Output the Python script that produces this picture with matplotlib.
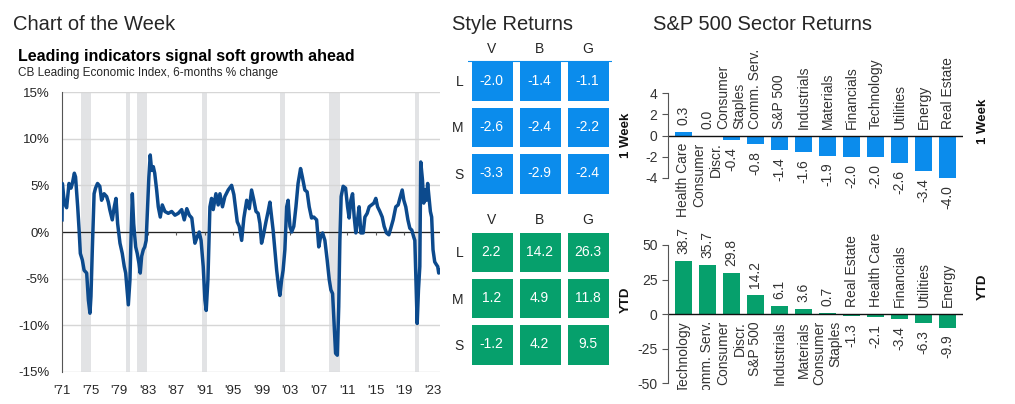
import matplotlib.pyplot as plt
import numpy as np
from matplotlib.colors import ListedColormap
from matplotlib.transforms import Bbox, TransformedBbox

plt.rcParams['font.family'] = ['Liberation Sans', 'DejaVu Sans']
plt.rcParams['axes.unicode_minus'] = False  # guion comun como en el original

# ---- datos ----
# LEI, variacion 6 meses (%)
lei_years = [1971.0, 1971.05, 1971.33, 1971.65, 1971.98, 1972.26, 1972.45, 1972.73, 1972.9, 1973.2,
             1973.4, 1973.57, 1973.85, 1974.1, 1974.46, 1974.7, 1974.92, 1975.06, 1975.25, 1975.5,
             1975.7, 1975.98, 1976.3, 1976.55, 1976.9, 1977.26, 1977.5, 1977.7, 1978.05, 1978.33,
             1978.57, 1978.8, 1979.13, 1979.45, 1979.73, 1979.93, 1980.1, 1980.3, 1980.53, 1980.67,
             1980.86, 1981.05, 1981.33, 1981.55, 1981.8, 1981.97, 1982.17, 1982.4, 1982.6, 1982.8,
             1983.0, 1983.18, 1983.37, 1983.57, 1983.8, 1984.0, 1984.27, 1984.5, 1984.78, 1985.06,
             1985.43, 1985.9, 1986.38, 1986.84, 1987.3, 1987.78, 1988.14, 1988.5, 1988.85, 1989.2,
             1989.4, 1989.64, 1989.96, 1990.24, 1990.5, 1990.8, 1991.04, 1991.22, 1991.46, 1991.74,
             1991.97, 1992.2, 1992.58, 1992.9, 1993.14, 1993.5, 1993.84, 1994.3, 1994.78, 1995.1,
             1995.25, 1995.57, 1995.85, 1996.19, 1996.5, 1996.9, 1997.26, 1997.58, 1997.9, 1998.2,
             1998.5, 1998.75, 1998.98, 1999.2, 1999.6, 1999.9, 2000.15, 2000.39, 2000.6, 2000.85,
             2001.1, 2001.37, 2001.55, 2001.8, 2002.0, 2002.25, 2002.5, 2002.7, 2002.96, 2003.2,
             2003.5, 2003.8, 2004.1, 2004.45, 2004.7, 2005.05, 2005.37, 2005.66, 2005.99, 2006.3,
             2006.7, 2007.0, 2007.26, 2007.54, 2007.86, 2008.18, 2008.47, 2008.7, 2008.94, 2009.17,
             2009.36, 2009.6, 2009.8, 2009.96, 2010.14, 2010.42, 2010.76, 2011.04, 2011.26, 2011.5,
             2011.74, 2011.97, 2012.2, 2012.44, 2012.66, 2012.9, 2013.23, 2013.47, 2013.79, 2014.07,
             2014.4, 2014.73, 2015.0, 2015.25, 2015.57, 2015.9, 2016.17, 2016.5, 2016.83, 2017.1,
             2017.43, 2017.8, 2018.13, 2018.37, 2018.7, 2018.93, 2019.2, 2019.5, 2019.77, 2020.05,
             2020.3, 2020.47, 2020.6, 2020.8, 2020.98, 2021.17, 2021.3, 2021.54, 2021.72, 2021.9,
             2022.1, 2022.27, 2022.45, 2022.65, 2022.83, 2023.02, 2023.26, 2023.5, 2023.68, 2023.82,
             2023.98]
lei_vals = [1.3, 5.2, 3.1, 2.6, 5.2, 4.7, 5.2, 6.3, 5.9, 2.7,
            0.2, -2.3, -3.0, -4.1, -4.4, -7.3, -8.7, -6.9, -1.9, 4.1,
            4.7, 5.2, 4.9, 3.4, 4.1, 3.8, 3.2, 2.4, 1.3, 2.7,
            3.6, 0.9, -1.2, -2.3, -3.7, -4.4, -5.9, -7.8, -5.1, -0.9,
            4.1, 0.9, -1.6, -2.3, -3.4, -4.4, -2.6, -1.9, -1.6, -0.9,
            2.7, 5.9, 8.25, 6.6, 7.0, 6.3, 4.5, 2.7, 1.6, 2.9,
            2.2, 2.0, 2.2, 1.8, 2.0, 2.4, 1.3, 2.5, 1.8, 1.5,
            0.2, -1.2, -0.5, 0.0, -0.9, -3.7, -7.3, -8.4, -5.1, 2.7,
            3.6, 2.4, 4.1, 2.9, 4.1, 2.7, 3.8, 4.5, 5.0, 4.0,
            3.1, 1.1, 0.6, -0.9, 1.5, 3.4, 2.5, 4.5, 3.4, 2.2,
            2.0, 0.9, -1.2, -0.5, 1.1, 2.2, 3.2, 1.6, 0.2, -1.9,
            -4.1, -5.9, -6.8, -5.1, -4.1, -1.9, 2.7, 3.4, 0.6, 0.0,
            0.6, 2.7, 5.2, 6.8, 5.9, 4.5, 4.3, 2.7, 1.5, 1.6,
            1.3, -1.6, -0.5, -0.1, -0.9, -3.0, -5.1, -6.2, -6.6, -10.1,
            -13.0, -13.2, -8.0, -0.9, 3.8, 4.9, 4.7, 2.7, 1.5, 3.4,
            4.1, 1.6, -0.1, 1.3, 2.7, -0.1, -0.1, 1.6, 2.0, 2.7,
            2.9, 3.1, 3.6, 2.7, 2.2, 1.6, 0.6, -0.1, -0.3, 0.4,
            1.3, 2.7, 2.9, 3.6, 4.5, 3.4, 2.7, 1.3, 0.4, 0.2,
            -0.5, -0.9, -4.4, -9.8, -6.2, -3.7, 7.5, 5.6, 3.1, 4.5,
            3.4, 5.2, 3.8, 2.2, 1.6, -1.9, -3.2, -3.5, -3.7, -4.4,
            -4.1]
# recesiones (inicio, fin)
recessions = [(1973.66, 1975.06), (1979.97, 1980.53), (1981.51, 1982.91), (1990.62, 1991.32),
              (2001.55, 2002.25), (2008.47, 2009.96), (2020.52, 2021.0)]
year_ticks = list(range(1971, 2024, 4))
year_labels = ["'71", "'75", "'79", "'83", "'87", "'91", "'95", "'99", "'03", "'07", "'11", "'15", "'19", "'23"]
pct_ticks = [-15, -10, -5, 0, 5, 10, 15]

# style returns
style_cols = ['V', 'B', 'G']
style_rows = ['L', 'M', 'S']
style_week = [[-2.0, -1.4, -1.1], [-2.6, -2.4, -2.2], [-3.3, -2.9, -2.4]]
style_ytd = [[2.2, 14.2, 26.3], [1.2, 4.9, 11.8], [-1.2, 4.2, 9.5]]

# sectores
week_names = ['Health Care', 'Consumer\nDiscr.', 'Consumer\nStaples', 'Comm. Serv.', 'S&P 500',
              'Industrials', 'Materials', 'Financials', 'Technology', 'Utilities', 'Energy', 'Real Estate']
week_vals = [0.3, 0.0, -0.4, -0.8, -1.4, -1.6, -1.9, -2.0, -2.0, -2.6, -3.4, -4.0]
ytd_names = ['Technology', 'Comm. Serv.', 'Consumer\nDiscr.', 'S&P 500', 'Industrials', 'Materials',
             'Consumer\nStaples', 'Real Estate', 'Health Care', 'Financials', 'Utilities', 'Energy']
ytd_vals = [38.7, 35.7, 29.8, 14.2, 6.1, 3.6, 0.7, -1.3, -2.1, -3.4, -6.3, -9.9]

BLUE = '#0b8cec'
GREEN = '#06a06c'
NAVY = '#0c4a8d'
TXT = '#262626'

W, H = 1015, 404
fig = plt.figure(figsize=(W / 100, H / 100), dpi=100)


def box(left, top, right, bottom):
    # rectangulo en pixeles (desde arriba) -> coords de figura
    return [left / W, 1 - bottom / H, (right - left) / W, (bottom - top) / H]


# titulos
fig.text(13 / W, 1 - 30.5 / H, 'Chart of the Week', fontsize=14.5, color=TXT, va='baseline')
fig.text(18 / W, 1 - 61 / H, 'Leading indicators signal soft growth ahead', fontsize=11.5,
         fontweight='bold', color='black', va='baseline')
fig.text(18 / W, 1 - 76 / H, 'CB Leading Economic Index, 6-months % change', fontsize=8.5,
         color=TXT, va='baseline')
fig.text(452 / W, 1 - 30.5 / H, 'Style Returns', fontsize=14.5, color=TXT, va='baseline')
fig.text(653 / W, 1 - 30.5 / H, 'S&P 500 Sector Returns', fontsize=14.5, color=TXT, va='baseline')

# ---- grafico de linea ----
ax = fig.add_axes(box(62, 92, 440, 372))
for a, b in recessions:
    ax.axvspan(a, b, color='#e2e3e5', lw=0, zorder=0)
ax.set_xlim(1971, 2024)
ax.set_ylim(-15, 15)
ax.set_yticks(pct_ticks, [f'{v}%' for v in pct_ticks])
ax.yaxis.grid(True, color='#d6d6d6', lw=1)
ax.set_axisbelow(True)
ax.set_xticks(year_ticks, year_labels)
ax.tick_params(length=0, labelsize=9.5, colors=TXT)
ax.tick_params(axis='x', pad=9)
ax.tick_params(axis='y', pad=9)
for s in ['top', 'right', 'bottom']:
    ax.spines[s].set_visible(False)
ax.spines['left'].set_color('#555555')
ax.axhline(0, color='#222222', lw=0.9, zorder=2)
ax.vlines(year_ticks, -0.35, 0, color='#555555', lw=0.8, zorder=2)
ax.plot(lei_years, lei_vals, color=NAVY, lw=2.5, solid_joinstyle='round', zorder=3)


# ---- style returns ----
def style_grid(rect, vals, color, topline=False):
    ax = fig.add_axes(box(*rect))
    ax.pcolormesh(np.zeros((3, 3)), cmap=ListedColormap([color]), edgecolors='white', linewidth=5.0)
    ax.set_xlim(0, 3)
    ax.set_ylim(3, 0)
    for i in range(3):
        for j in range(3):
            ax.text(j + 0.5, i + 0.5, f'{vals[i][j]:.1f}', ha='center', va='center',
                    color='white', fontsize=10)
    ax.set_xticks(np.arange(3) + 0.5, style_cols)
    ax.xaxis.tick_top()
    ax.set_yticks(np.arange(3) + 0.5, style_rows)
    ax.tick_params(length=0, labelsize=10, colors=TXT)
    ax.tick_params(axis='x', pad=1)
    ax.tick_params(axis='y', pad=3)
    for s in ax.spines.values():
        s.set_visible(False)
    if topline:
        ax.axhline(0.076, color=color, lw=0.8)


style_grid((467.5, 57.5, 611.5, 196.5), style_week, BLUE, topline=True)
style_grid((467.5, 228.5, 611.5, 367.5), style_ytd, GREEN)


# ---- sectores ----
def sector_chart(rect, names, vals, ylim, yticks, color, clip=None):
    ax = fig.add_axes(box(*rect))
    x = np.arange(len(vals))
    ax.bar(x, vals, width=0.7, color=color)
    ax.axhline(0, color='#111111', lw=1)
    ax.set_xlim(-0.64, len(vals) - 0.36)
    ax.set_ylim(*ylim)
    ax.set_yticks(yticks)
    ax.set_xticks([])
    ax.tick_params(axis='y', length=4.5, width=0.8, color='#555555', labelsize=10,
                   labelcolor='#333333', pad=3)
    for s in ['top', 'right', 'bottom']:
        ax.spines[s].set_visible(False)
    ax.spines['left'].set_color('#555555')
    ax.spines['left'].set_bounds(*ylim)
    texts = []
    for i, (n, v) in enumerate(zip(names, vals)):
        if v >= 0:
            t1 = ax.annotate(f'{v:.1f}', (i, v), xytext=(0, 5), textcoords='offset points',
                             rotation=90, ha='center', va='bottom', fontsize=10, color='#333333')
            t2 = ax.annotate(n, (i, 0), xytext=(0, -5), textcoords='offset points', rotation=90,
                             ha='center', va='top', multialignment='right', fontsize=10,
                             color='#333333')
        else:
            t1 = ax.annotate(f'{v:.1f}', (i, v), xytext=(0, -5), textcoords='offset points',
                             rotation=90, ha='center', va='top', fontsize=10, color='#333333')
            t2 = ax.annotate(n, (i, 0), xytext=(0, 5), textcoords='offset points', rotation=90,
                             ha='center', va='bottom', multialignment='left', fontsize=10,
                             color='#333333')
        texts += [t1, t2]
    if clip is not None:
        cb = TransformedBbox(Bbox.from_extents(0, 1 - clip / H, 1, 1), fig.transFigure)
        for t in texts:
            t.set_clip_on(True)
            t.set_clip_box(cb)
    return ax


sector_chart((668, 93.3, 963, 177.7), week_names, week_vals, (-4, 4), [-4, -2, 0, 2, 4], BLUE)
sector_chart((668, 245, 963, 383.3), ytd_names, ytd_vals, (-50, 50), [-50, -25, 0, 25, 50], GREEN,
             clip=390)

# etiquetas laterales
for xx, yy, s in [(626, 135, '1 Week'), (983, 121, '1 Week'), (626, 300, 'YTD'), (983, 287, 'YTD')]:
    fig.text(xx / W, 1 - yy / H, s, rotation=90, ha='center', va='center', fontsize=9.5,
             fontweight='bold', color='#111111')

fig.savefig('out.png', dpi=100)
